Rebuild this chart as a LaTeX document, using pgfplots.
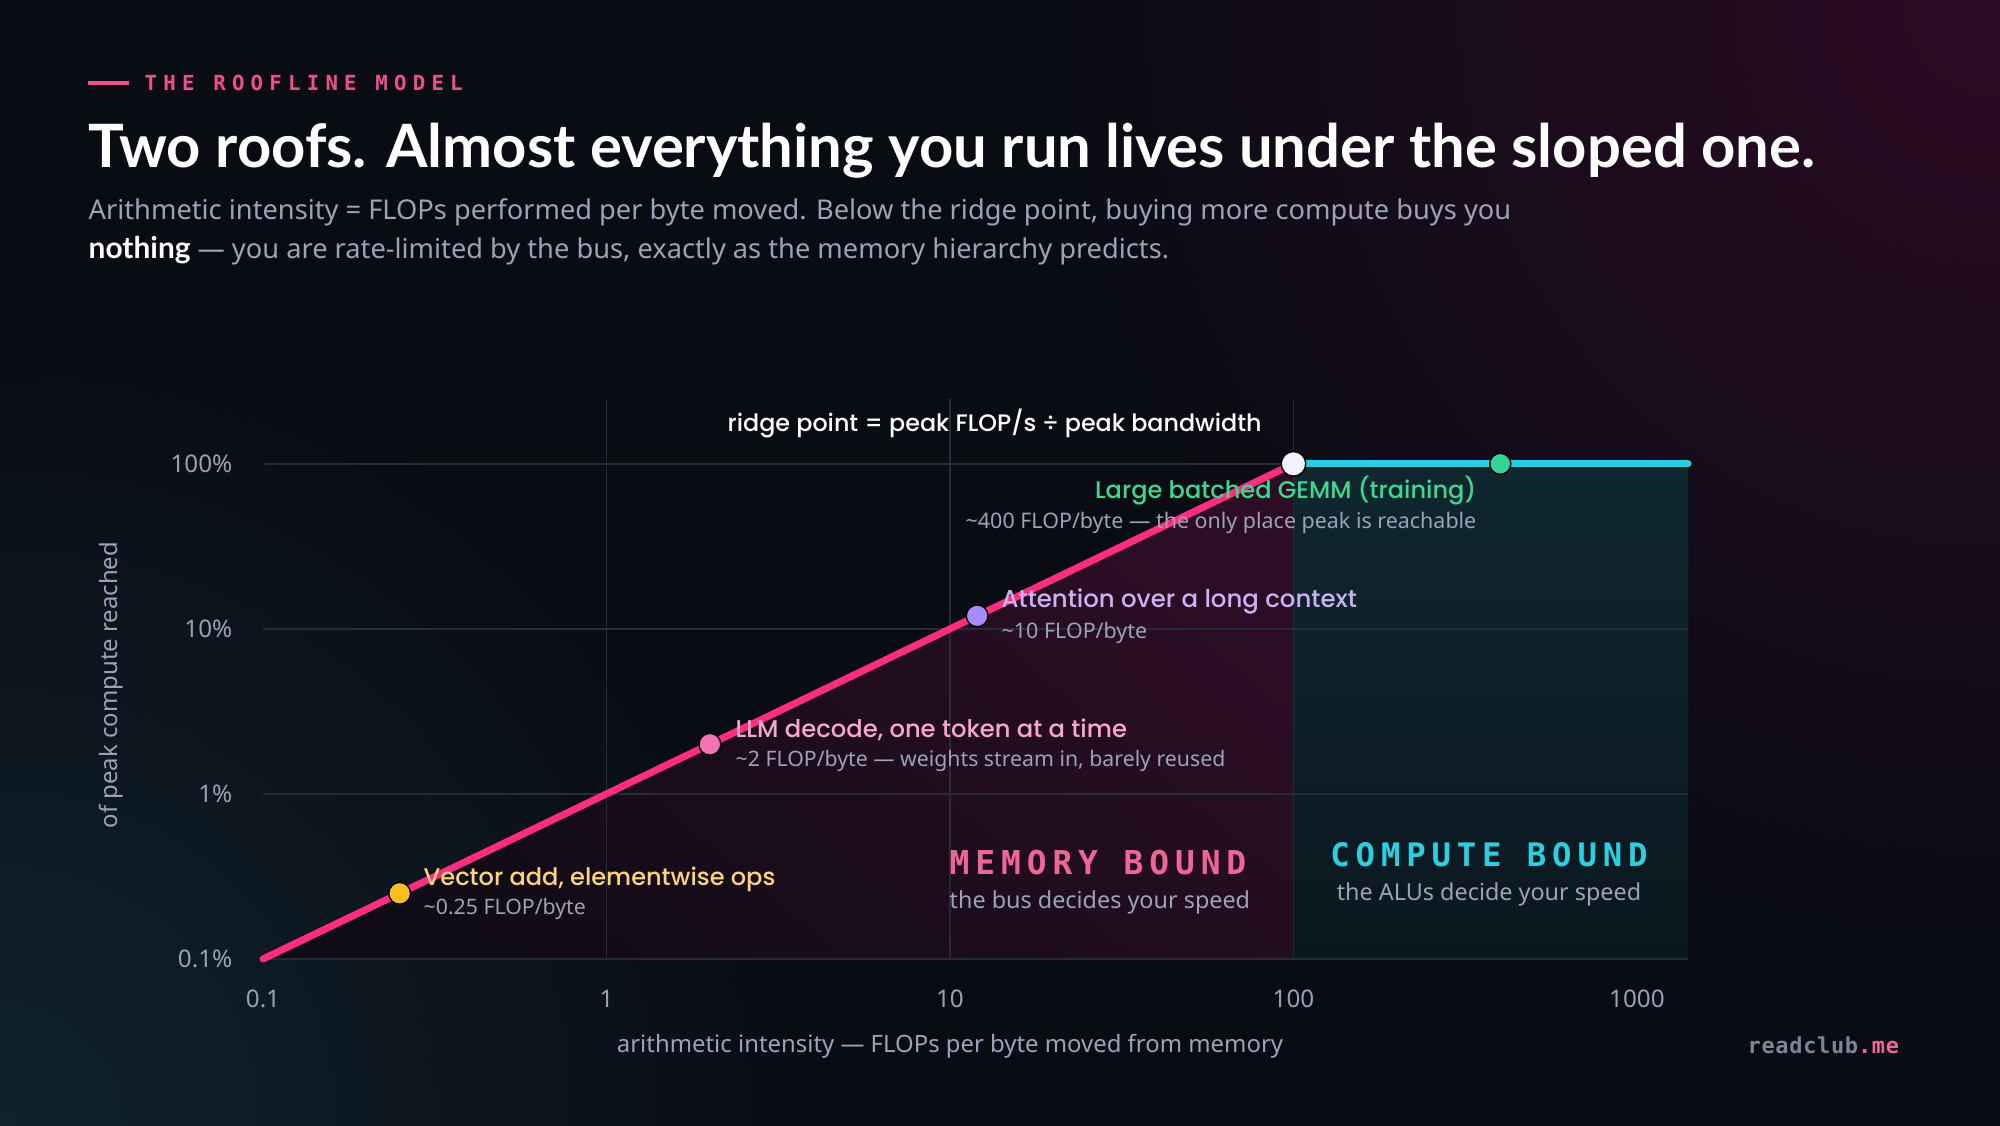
\documentclass[border=0pt]{standalone}
\usepackage{pgfplots}
\pgfplotsset{compat=1.18}
\usepackage{fontspec}
\setmainfont{Noto Sans}
\newfontfamily\titlefont{Lato}
\IfFontExistsTF{Poppins Medium}{\newfontfamily\annfont{Poppins Medium}}{\newfontfamily\annfont{Poppins}}
\newfontfamily\monobig[LetterSpace=18]{DejaVu Sans Mono}
\newfontfamily\monotag[LetterSpace=30]{DejaVu Sans Mono}
\newfontfamily\monosmall[LetterSpace=3]{DejaVu Sans Mono}

\definecolor{bgc}{HTML}{0A0C14}
\definecolor{glowpink}{HTML}{2C0B24}
\definecolor{glowteal}{HTML}{0F232D}
\definecolor{gridc}{HTML}{262B38}
\definecolor{tickc}{HTML}{9AA1B5}
\definecolor{subc}{HTML}{9CA2B8}
\definecolor{pinkline}{HTML}{FF2D7E}
\definecolor{tealline}{HTML}{26CFE3}
\definecolor{amberdot}{HTML}{FBBF24}
\definecolor{amberlab}{HTML}{FCD57A}
\definecolor{pinkdot}{HTML}{F472B6}
\definecolor{pinklab}{HTML}{F9A8C9}
\definecolor{lildot}{HTML}{A78BFA}
\definecolor{lillab}{HTML}{CDB0F5}
\definecolor{greendot}{HTML}{34D399}
\definecolor{greenlab}{HTML}{3FD68F}
\definecolor{whitedot}{HTML}{F2F3FA}
\definecolor{tagpink}{HTML}{F0508A}
\definecolor{memlab}{HTML}{F06595}
\definecolor{complab}{HTML}{2CCFE0}
\definecolor{memhi}{HTML}{2C0D25}
\definecolor{memlo}{HTML}{100C16}
\definecolor{comphi}{HTML}{10272F}
\definecolor{complo}{HTML}{0B171F}
\definecolor{brandc}{HTML}{7E8598}

\begin{document}
\begin{tikzpicture}
\useasboundingbox (0,0) rectangle (20,11.25);
\fill[bgc] (-0.2,-0.2) rectangle (20.2,11.45);
\begin{scope}
\clip (-0.2,-0.2) rectangle (20.2,11.45);
\shade[inner color=glowpink, outer color=bgc] (20,11.25) circle (9.5);
\shade[inner color=glowteal, outer color=bgc] (0,0) circle (8);
\end{scope}

\begin{axis}[
  at={(2.63cm,1.66cm)}, anchor=south west,
  scale only axis, width=14.25cm, height=5.6cm,
  xmode=log, ymode=log,
  xmin=0.1, xmax=1408, ymin=0.1, ymax=247,
  axis line style={draw=none},
  major tick length=0pt, minor tick length=0pt,
  tick style={draw=none},
  xtick={0.1,1,10,100,1000}, xticklabels={0.1,1,10,100,1000},
  ytick={0.1,1,10,100}, yticklabels={0.1\%,1\%,10\%,100\%},
  ticklabel style={font=\fontsize{6.9}{8}\selectfont, text=tickc},
  xticklabel style={anchor=center, yshift=-0.40cm},
  yticklabel style={anchor=east, inner sep=0pt, xshift=-0.30cm},
  clip=false,
]
% regions
\addplot[draw=none, shading=axis, top color=memhi, bottom color=memlo, shading angle=-40]
  coordinates {(0.1,0.1) (100,100) (100,0.1) (0.1,0.1)};
\addplot[draw=none, top color=comphi, bottom color=complo]
  coordinates {(100,0.1) (100,100) (1408,100) (1408,0.1) (100,0.1)};
% grid
\addplot[gridc, line width=0.4pt] coordinates {(0.1,0.1) (1408,0.1)};
\addplot[gridc, line width=0.4pt] coordinates {(0.1,1) (1408,1)};
\addplot[gridc, line width=0.4pt] coordinates {(0.1,10) (1408,10)};
\addplot[gridc, line width=0.4pt] coordinates {(0.1,100) (1408,100)};
\addplot[gridc, line width=0.4pt] coordinates {(1,0.1) (1,247)};
\addplot[gridc, line width=0.4pt] coordinates {(10,0.1) (10,247)};
\addplot[gridc, line width=0.4pt] coordinates {(100,0.1) (100,247)};
% roofs
\addplot[pinkline, line width=2pt, line cap=round] coordinates {(0.1,0.1) (100,100)};
\addplot[tealline, line width=2pt, line cap=round] coordinates {(100,100) (1408,100)};
% workloads
\addplot[only marks, mark=*, mark size=3.1pt, mark options={draw=none, fill=amberdot}] coordinates {(0.25,0.25)};
\addplot[only marks, mark=*, mark size=3.1pt, mark options={draw=none, fill=pinkdot}] coordinates {(2,2)};
\addplot[only marks, mark=*, mark size=3.1pt, mark options={draw=none, fill=lildot}] coordinates {(12,12)};
\addplot[only marks, mark=*, mark size=3.0pt, mark options={draw=none, fill=greendot}] coordinates {(400,100)};
\addplot[only marks, mark=*, mark size=3.5pt, mark options={draw=none, fill=whitedot}] coordinates {(100,100)};
\end{axis}

% header
\draw[tagpink, line width=0.9pt] (0.88,10.42) -- (1.29,10.42);
\node[anchor=west, inner sep=0pt, text=tagpink] at (1.44,10.42) {\monotag\bfseries\fontsize{5.9}{7}\selectfont THE ROOFLINE MODEL};
\node[anchor=west, inner sep=0pt, text=white] at (0.88,9.74) {\titlefont\bfseries\fontsize{17.0}{20}\selectfont Two roofs. Almost everything you run lives under the sloped one.};
\node[anchor=west, inner sep=0pt, text=subc] at (0.88,9.13) {\fontsize{7.75}{9}\selectfont Arithmetic intensity = FLOPs performed per byte moved. Below the ridge point, buying more compute buys you};
\node[anchor=west, inner sep=0pt, text=subc] at (0.88,8.74) {\fontsize{7.75}{9}\selectfont \textcolor{white}{\titlefont\bfseries\fontsize{8.5}{9}\selectfont nothing} — you are rate-limited by the bus, exactly as the memory hierarchy predicts.};

% annotations
\node[anchor=west, inner sep=0pt, text=white] at (7.27,7.02) {\annfont\fontsize{6.78}{8}\selectfont ridge point = peak FLOP/s ÷ peak bandwidth};
\node[anchor=east, inner sep=0pt, text=greenlab] at (14.77,6.34) {\annfont\fontsize{6.85}{8}\selectfont Large batched GEMM (training)};
\node[anchor=east, inner sep=0pt, text=subc] at (14.77,6.02) {\fontsize{6.1}{7}\selectfont \textasciitilde400 FLOP/byte — the only place peak is reachable};
\node[anchor=west, inner sep=0pt, text=lillab] at (10.01,5.24) {\annfont\fontsize{6.95}{8}\selectfont Attention over a long context};
\node[anchor=west, inner sep=0pt, text=subc] at (10.01,4.92) {\fontsize{6.1}{7}\selectfont \textasciitilde10 FLOP/byte};
\node[anchor=west, inner sep=0pt, text=pinklab] at (7.35,3.95) {\annfont\fontsize{6.9}{8}\selectfont LLM decode, one token at a time};
\node[anchor=west, inner sep=0pt, text=subc] at (7.35,3.64) {\fontsize{6.05}{7}\selectfont \textasciitilde2 FLOP/byte — weights stream in, barely reused};
\node[anchor=west, inner sep=0pt, text=amberlab] at (4.23,2.46) {\annfont\fontsize{6.85}{8}\selectfont Vector add, elementwise ops};
\node[anchor=west, inner sep=0pt, text=subc] at (4.23,2.16) {\fontsize{6.05}{7}\selectfont \textasciitilde0.25 FLOP/byte};

\node[anchor=west, inner sep=0pt, text=memlab] at (9.49,2.62) {\monobig\bfseries\fontsize{9.35}{11}\selectfont MEMORY BOUND};
\node[anchor=west, inner sep=0pt, text=subc] at (9.49,2.23) {\fontsize{6.65}{8}\selectfont the bus decides your speed};
\node[anchor=center, inner sep=0pt, text=complab] at (14.89,2.70) {\monobig\bfseries\fontsize{9.2}{11}\selectfont COMPUTE BOUND};
\node[anchor=center, inner sep=0pt, text=subc] at (14.89,2.31) {\fontsize{6.65}{8}\selectfont the ALUs decide your speed};

% axis titles
\node[anchor=center, inner sep=0pt, text=subc] at (9.50,0.79) {\fontsize{6.8}{8}\selectfont arithmetic intensity — FLOPs per byte moved from memory};
\node[anchor=center, inner sep=0pt, text=subc, rotate=90] at (1.11,4.40) {\fontsize{6.8}{8}\selectfont of peak compute reached};

\node[anchor=west, inner sep=0pt] at (17.47,0.80) {\monosmall\bfseries\fontsize{6.25}{7}\selectfont \textcolor{brandc}{readclub}\textcolor{memlab}{.me}};
\end{tikzpicture}
\end{document}
